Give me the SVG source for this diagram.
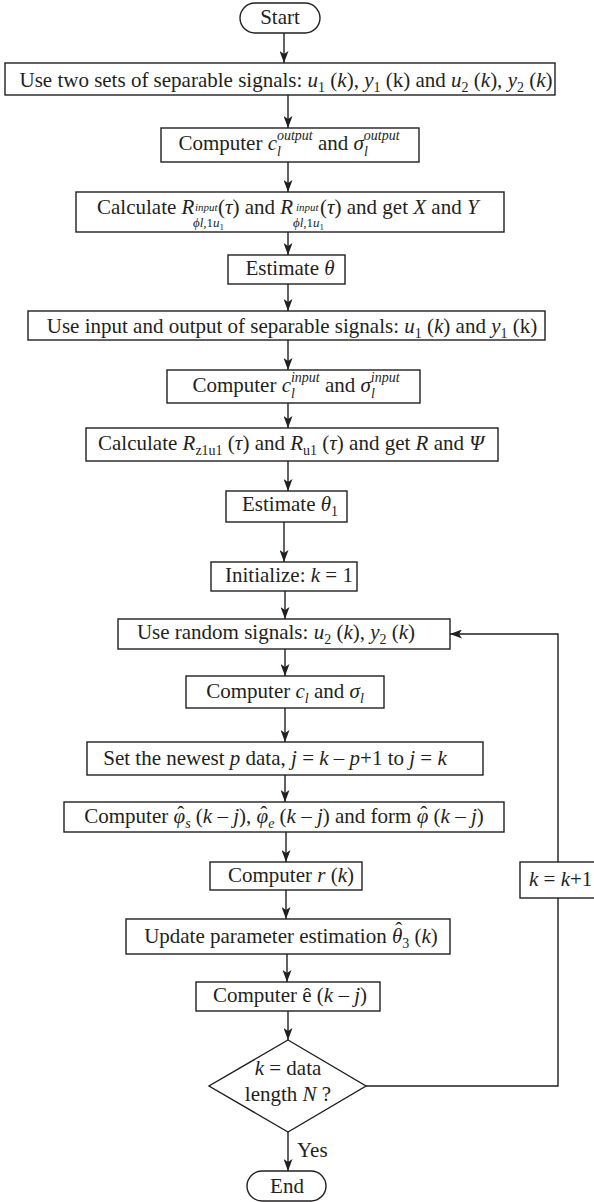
<svg xmlns="http://www.w3.org/2000/svg" width="594" height="1202" viewBox="0 0 594 1202">
  <style>
    .n rect, .n polygon { fill: #fff; stroke: #231f20; stroke-width: 1.4; }
    .t { font-family: "Liberation Serif", "Times New Roman", serif; font-size: 21px; fill: #231f20; text-anchor: middle; }
    .l { text-anchor: start; }
    .i { font-style: italic; }
    .s { font-size: 14px; }
    .xs { font-size: 11px; }
    .ss { font-size: 13px; }
    .c path { fill: none; stroke: #231f20; stroke-width: 1.4; }
    .c .a { marker-end: url(#ah); }
  </style>
  <defs>
    <marker id="ah" viewBox="0 0 12 9" refX="12" refY="4.5" markerWidth="12" markerHeight="9" markerUnits="userSpaceOnUse" orient="auto">
      <path d="M0,0 L12,4.5 L0,9 L3,4.5 z" fill="#231f20"/>
    </marker>
  </defs>

  <!-- connectors -->
  <g id="connectors" class="c">
    <path class="a" d="M284,33 V63"/>
    <path class="a" d="M288,95 V128"/>
    <path class="a" d="M288,162 V192"/>
    <path class="a" d="M288,232 V255"/>
    <path class="a" d="M288,284 V311"/>
    <path class="a" d="M288,340 V370"/>
    <path class="a" d="M288,403 V428"/>
    <path class="a" d="M288,461 V491"/>
    <path class="a" d="M284,522 V562"/>
    <path class="a" d="M285,591 V619"/>
    <path class="a" d="M285,649 V676"/>
    <path class="a" d="M285,708 V742"/>
    <path class="a" d="M285,775 V802"/>
    <path class="a" d="M286,832 V862"/>
    <path class="a" d="M286,890 V919"/>
    <path class="a" d="M287,954 V982"/>
    <path class="a" d="M288,1011 V1040"/>
    <path class="a" d="M288,1132 V1171"/>
    <path d="M366,1086 H558 V898"/>
    <path class="a" d="M558,862 V634 H450"/>
    <text class="t l" x="297" y="1157">Yes</text>
  </g>

  <g id="start" class="n">
    <rect x="240" y="3" width="80" height="30" rx="15"/>
    <text class="t" x="280" y="24">Start</text>
  </g>

  <g id="use-two-sets" class="n">
    <rect x="5" y="63" width="550" height="32"/>
    <text class="t" x="286" y="87">Use two sets of separable signals: <tspan class="i">u</tspan><tspan class="s" dy="5">1</tspan><tspan dy="-5"> (</tspan><tspan class="i">k</tspan>), <tspan class="i">y</tspan><tspan class="s" dy="5">1</tspan><tspan dy="-5"> (k) and </tspan><tspan class="i">u</tspan><tspan class="s" dy="5">2</tspan><tspan dy="-5"> (</tspan><tspan class="i">k</tspan>), <tspan class="i">y</tspan><tspan class="s" dy="5">2</tspan><tspan dy="-5"> (</tspan><tspan class="i">k</tspan>)</text>
  </g>

  <g id="computer-output" class="n">
    <rect x="161" y="128" width="258" height="34"/>
    <text class="t" x="289" y="150">Computer <tspan class="i">c</tspan><tspan class="i s" dy="6">l</tspan><tspan class="i s" dx="-4" dy="-16">output</tspan><tspan dy="10"> and </tspan><tspan class="i">σ</tspan><tspan class="i s" dy="6">l</tspan><tspan class="i s" dx="-4" dy="-16">output</tspan></text>
  </g>

  <g id="calculate-r-input" class="n">
    <rect x="76" y="192" width="428" height="40"/>
    <text class="t l" x="97" y="214">Calculate <tspan class="i">R</tspan></text>
    <text class="t l i xs" x="195" y="211">input</text>
    <text class="t l ss" x="193" y="227"><tspan class="i">ϕ</tspan><tspan class="i">l</tspan>,1<tspan class="i">u</tspan><tspan font-size="9" dy="3">1</tspan></text>
    <text class="t l" x="218" y="214">(<tspan class="i">τ</tspan>) and <tspan class="i">R</tspan></text>
    <text class="t l i xs" x="296" y="211">input</text>
    <text class="t l ss" x="293" y="227"><tspan class="i">ϕ</tspan><tspan class="i">l</tspan>,1<tspan class="i">u</tspan><tspan font-size="9" dy="3">1</tspan></text>
    <text class="t l" x="320" y="214">(<tspan class="i">τ</tspan>) and get <tspan class="i">X</tspan> and <tspan class="i">Y</tspan></text>
  </g>

  <g id="estimate-theta" class="n">
    <rect x="228" y="255" width="117" height="29"/>
    <text class="t" x="290" y="275">Estimate <tspan class="i">θ</tspan></text>
  </g>

  <g id="use-input-output" class="n">
    <rect x="28" y="311" width="517" height="29"/>
    <text class="t" x="292" y="333">Use input and output of separable signals: <tspan class="i">u</tspan><tspan class="s" dy="5">1</tspan><tspan dy="-5"> (</tspan><tspan class="i">k</tspan>) and <tspan class="i">y</tspan><tspan class="s" dy="5">1</tspan><tspan dy="-5"> (k)</tspan></text>
  </g>

  <g id="computer-input" class="n">
    <rect x="167" y="370" width="253" height="33"/>
    <text class="t" x="296" y="392">Computer <tspan class="i">c</tspan><tspan class="i s" dy="6">l</tspan><tspan class="i s" dx="-4" dy="-16">input</tspan><tspan dy="10"> and </tspan><tspan class="i">σ</tspan><tspan class="i s" dy="6">l</tspan><tspan class="i s" dx="-4" dy="-16">input</tspan></text>
  </g>

  <g id="calculate-r-z1u1" class="n">
    <rect x="86" y="428" width="412" height="33"/>
    <text class="t" x="291" y="450">Calculate <tspan class="i">R</tspan><tspan class="s" dy="5">z1u1</tspan><tspan dy="-5"> (</tspan><tspan class="i">τ</tspan>) and <tspan class="i">R</tspan><tspan class="s" dy="5">u1</tspan><tspan dy="-5"> (</tspan><tspan class="i">τ</tspan>) and get <tspan class="i">R</tspan> and <tspan class="i">Ψ</tspan></text>
  </g>

  <g id="estimate-theta1" class="n">
    <rect x="226" y="491" width="121" height="31"/>
    <text class="t" x="290" y="511">Estimate <tspan class="i">θ</tspan><tspan class="s" dy="5">1</tspan></text>
  </g>

  <g id="initialize" class="n">
    <rect x="211" y="562" width="146" height="29"/>
    <text class="t" x="289" y="582">Initialize: <tspan class="i">k</tspan> = 1</text>
  </g>

  <g id="use-random" class="n">
    <rect x="118" y="619" width="332" height="30"/>
    <text class="t" x="276" y="639">Use random signals: <tspan class="i">u</tspan><tspan class="s" dy="5">2</tspan><tspan dy="-5"> (</tspan><tspan class="i">k</tspan>), <tspan class="i">y</tspan><tspan class="s" dy="5">2</tspan><tspan dy="-5"> (</tspan><tspan class="i">k</tspan>)</text>
  </g>

  <g id="computer-cl" class="n">
    <rect x="186" y="676" width="198" height="32"/>
    <text class="t" x="285" y="698">Computer <tspan class="i">c</tspan><tspan class="i s" dy="5">l</tspan><tspan dy="-5"> and </tspan><tspan class="i">σ</tspan><tspan class="i s" dy="5">l</tspan></text>
  </g>

  <g id="set-newest" class="n">
    <rect x="87" y="742" width="396" height="33"/>
    <text class="t" x="275" y="765">Set the newest <tspan class="i">p</tspan> data, <tspan class="i">j</tspan> = <tspan class="i">k</tspan> – <tspan class="i">p</tspan>+1 to <tspan class="i">j</tspan> = <tspan class="i">k</tspan></text>
  </g>

  <!-- hats are set as a spacing circumflex pulled back over the preceding letter -->
  <g id="computer-phi" class="n">
    <rect x="64" y="802" width="440" height="30"/>
    <text class="t" x="284" y="823">Computer <tspan class="i">φ</tspan><tspan dx="-8" dy="-2">ˆ</tspan><tspan class="i s" dx="1" dy="7">s</tspan><tspan dy="-5"> (</tspan><tspan class="i">k</tspan> – <tspan class="i">j</tspan>), <tspan class="i">φ</tspan><tspan dx="-8" dy="-2">ˆ</tspan><tspan class="i s" dx="1" dy="7">e</tspan><tspan dy="-5"> (</tspan><tspan class="i">k</tspan> – <tspan class="i">j</tspan>) and form <tspan class="i">φ</tspan><tspan dx="-8" dy="-2">ˆ</tspan><tspan dx="1" dy="2"> (</tspan><tspan class="i">k</tspan> – <tspan class="i">j</tspan>)</text>
  </g>

  <g id="computer-r" class="n">
    <rect x="210" y="862" width="152" height="28"/>
    <text class="t" x="291" y="882">Computer <tspan class="i">r</tspan> (<tspan class="i">k</tspan>)</text>
  </g>

  <g id="increment-k" class="n">
    <rect x="520" y="862" width="80" height="36"/>
    <text class="t l" x="529" y="886"><tspan class="i">k</tspan> = <tspan class="i">k</tspan>+1</text>
  </g>

  <g id="update-theta" class="n">
    <rect x="126" y="919" width="324" height="35"/>
    <text class="t" x="291" y="943">Update parameter estimation <tspan class="i">θ</tspan><tspan dx="-7" dy="-6">ˆ</tspan><tspan class="s" dx="0" dy="11">3</tspan><tspan dy="-5"> (</tspan><tspan class="i">k</tspan>)</text>
  </g>

  <g id="computer-e" class="n">
    <rect x="196" y="982" width="184" height="29"/>
    <text class="t" x="290" y="1002">Computer ê (<tspan class="i">k</tspan> – <tspan class="i">j</tspan>)</text>
  </g>

  <g id="check-length" class="n">
    <polygon points="288,1040 366,1086 288,1132 209,1086"/>
    <text class="t" x="288" y="1075"><tspan class="i">k</tspan> = data</text>
    <text class="t" x="288" y="1101">length <tspan class="i">N</tspan> ?</text>
  </g>

  <g id="end" class="n">
    <rect x="247" y="1171" width="79" height="30" rx="15"/>
    <text class="t" x="287" y="1193">End</text>
  </g>
</svg>
